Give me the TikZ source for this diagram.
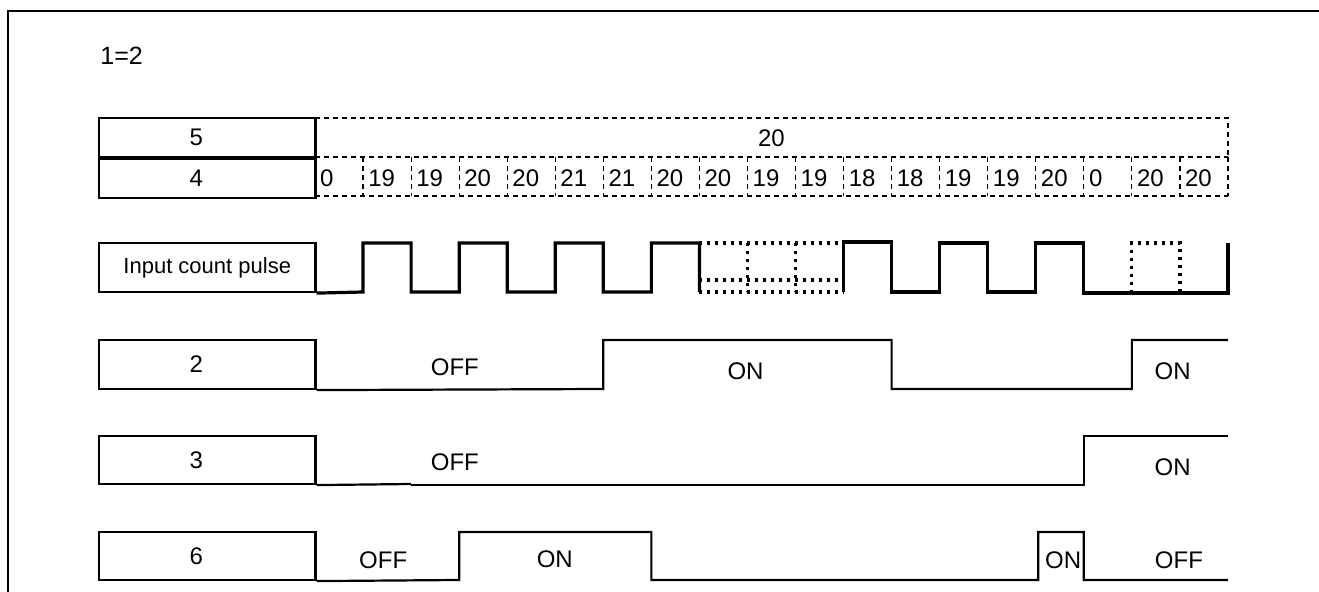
\documentclass[tikz,border=0pt]{standalone}
\usepackage{fontspec}
\setmainfont{Liberation Sans}
\usetikzlibrary{positioning}

\tikzset{
  lbl/.style={draw, line width=1.1pt, minimum width=108.25pt, inner sep=0pt, font=\fontsize{11}{13}\selectfont},
  tag/.style={lbl, font=\fontsize{12}{14}\selectfont, execute at end node={\hspace*{11pt}}},
  cell/.style={line width=0.6pt, dash pattern=on 2.5pt off 2pt},
  wave/.style={line width=1.1pt},
  pulse/.style={line width=1.6pt},
  gap/.style={line width=1.6pt, dash pattern=on 1.5pt off 2.5pt},
  state/.style={font=\fontsize{12}{14}\selectfont}
}

\begin{document}
\begin{tikzpicture}[x=0.5pt,y=-0.5pt]
  \useasboundingbox (0,0) rectangle (1319,592);
  \draw[line width=1.35pt] (8,592) -- (8,11) -- (1319,11);
  \node[anchor=west, inner sep=0pt, font=\fontsize{12.5}{14}\selectfont] (ratio) at (100,56) {1=2};

  \node[tag, minimum height=19.5pt] (lbl5) at (207.25,137.5) {5};
  \node[tag, minimum height=19.5pt, below=0pt of lbl5] (lbl4) {4};
  \node[lbl, minimum height=24.5pt] (lblin) at (207.25,267.5) {Input count pulse};
  \node[tag, minimum height=24.5pt] (lbl2) at (207.25,364.5) {2};
  \node[tag, minimum height=24pt] (lbl3) at (207.25,460) {3};
  \node[tag, minimum height=24pt] (lbl6) at (207.25,556) {6};

  \begin{scope}[shift={(315,0)}, x=24.025pt]
    \draw[cell] (0,118) -- (19,118) -- (19,157);
    \node[font=\fontsize{12}{14}\selectfont] (tot) at (9.5,138) {20};
    \draw[cell] (0,157) -- (19,157) (0,196) -- (19,196);
    \foreach \v [count=\i from 0] in {0,19,19,20,20,21,21,20,20,19,19,18,18,19,19,20,0,20,20} {
      \draw[cell] (\i+1,157) -- (\i+1,196);
      \node[anchor=west, inner sep=0pt, font=\fontsize{12}{14}\selectfont] (val\i) at (\i+0.1,178) {\v};
    }

    \draw[pulse] (lblin.south east) -- (1,292) -- (1,243) -- (2,243) -- (2,292) -- (3,292) -- (3,243) -- (4,243) -- (4,292)
      -- (5,292) -- (5,243) -- (6,243) -- (6,292) -- (7,292) -- (7,243) -- (8,243) -- (8,292);
    \draw[gap] (8,243) -- (11,243) (8,280) -- (11,280) (8,292) -- (11,292) (9,243) -- (9,292) (10,243) -- (10,292);
    \draw[pulse] (11,292) -- (11,242) -- (12,242) -- (12,292) -- (13,292) -- (13,243) -- (14,243) -- (14,292) -- (15,292)
      -- (15,243) -- (16,243) -- (16,293) -- (19,293) -- (19,243);
    \draw[gap] (17,293) -- (17,243) -- (18,243) -- (18,293);

    \draw[wave] (lbl2.south east) -- (6,389) -- (6,340) -- (12,340) -- (12,389) -- (17,389) -- (17,340) -- (19,340);
    \node[state] (off2) at (2.91,367) {OFF};
    \node[state] (on2a) at (8.96,371) {ON};
    \node[state] (on2b) at (17.85,371) {ON};

    \draw[wave] (lbl3.south east) -- (2,484);
    \draw[wave] (2,485) -- (16,485) -- (16,436) -- (19,436);
    \node[state] (off3) at (2.91,462) {OFF};
    \node[state] (on3) at (17.85,467) {ON};

    \draw[wave] (lbl6.south east) -- (3,580) -- (3,532) -- (7,532) -- (7,580) -- (15.05,580) -- (15.05,532) -- (16,532) -- (16,580) -- (19,580);
    \node[state] (off6a) at (1.42,560) {OFF};
    \node[state] (on6a) at (4.99,559) {ON};
    \node[state] (on6b) at (15.57,560) {ON};
    \node[state] (off6b) at (17.98,560) {OFF};
  \end{scope}
\end{tikzpicture}
\end{document}
